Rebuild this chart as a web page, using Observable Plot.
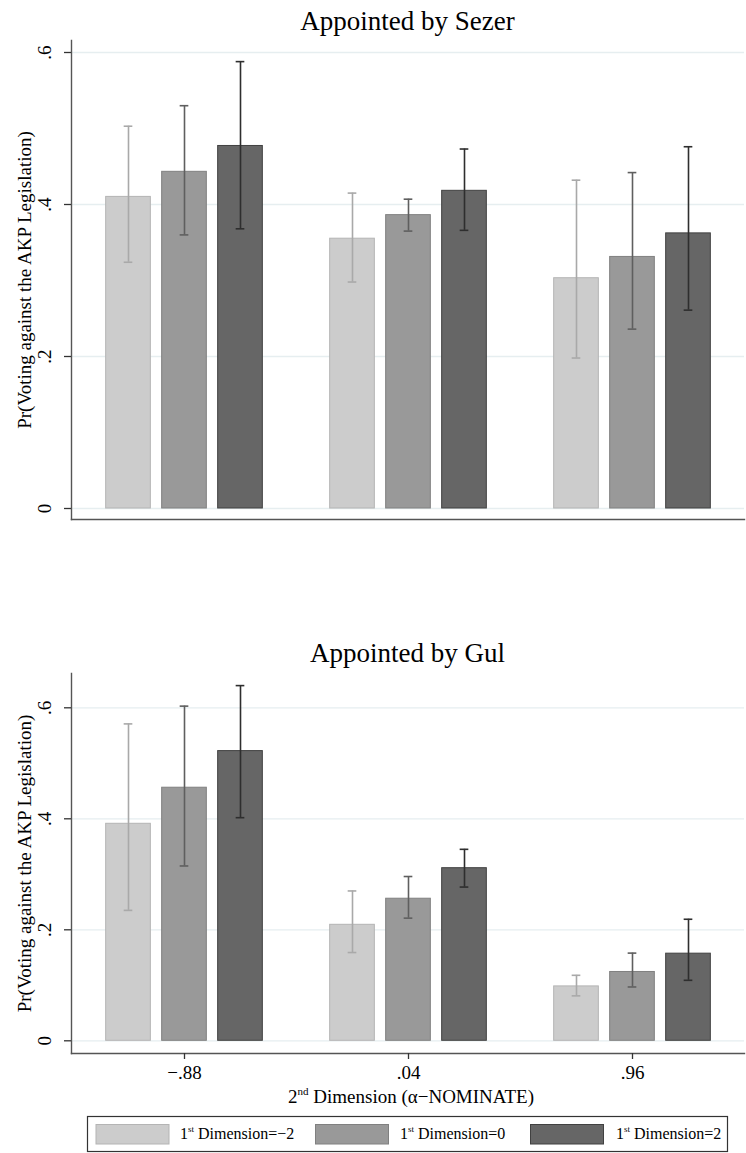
<!DOCTYPE html>
<html>
<head>
<meta charset="utf-8">
<script src="https://cdn.jsdelivr.net/npm/d3@7"></script>
<script src="https://cdn.jsdelivr.net/npm/@observablehq/plot@0.6"></script>
<style>
html, body { margin: 0; padding: 0; background: #fff; }
#chart { position: relative; width: 746px; height: 1153px; overflow: hidden; font-family: "Liberation Serif", "Times New Roman", serif; color: #000; }
#chart > svg, #chart > div { position: absolute; left: 0; }
</style>
</head>
<body>
<div id="chart"></div>
<script>
// ---- data ----
const groups = ["\u2212.88", ".04", ".96"];          // 2nd dimension values (x tick labels)
const seriesValues = ["\u22122", "0", "2"];           // 1st dimension values
const yTicks = [0, 0.2, 0.4, 0.6];
const yTickLabels = ["0", ".2", ".4", ".6"];
const panelTitles = ["Appointed by Sezer", "Appointed by Gul"];
const yLabel = "Pr(Voting against the AKP Legislation)";

// Appointed by Sezer (group-major: -.88 x3, .04 x3, .96 x3)
const sezerEst = [0.410, 0.443, 0.477, 0.355, 0.386, 0.418, 0.303, 0.331, 0.362];
const sezerLo  = [0.324, 0.360, 0.368, 0.298, 0.365, 0.366, 0.198, 0.236, 0.261];
const sezerHi  = [0.503, 0.530, 0.588, 0.415, 0.407, 0.473, 0.432, 0.442, 0.476];

// Appointed by Gul
const gulEst = [0.391, 0.456, 0.522, 0.209, 0.256, 0.311, 0.098, 0.124, 0.157];
const gulLo  = [0.235, 0.315, 0.402, 0.159, 0.221, 0.277, 0.081, 0.097, 0.109];
const gulHi  = [0.571, 0.603, 0.640, 0.270, 0.296, 0.345, 0.118, 0.158, 0.219];

// ---- styles ----
const fills = ["#cccccc", "#999999", "#666666"];
const edges = ["#b4b4b4", "#808080", "#414141"];
const whisk = ["#a9a9a9", "#5f5f5f", "#2e2e2e"];
const FONT = "Liberation Serif, Times New Roman, serif";

function rows(est, lo, hi) {
  return est.map((v, i) => ({group: groups[Math.floor(i / 3)], s: i % 3, est: v, lo: lo[i], hi: hi[i]}));
}

function panel(data, {height, marginTop, marginBottom, insetTop, insetBottom, showX}) {
  const W = 746, ML = 71, MR = 2;
  const bw = (W - ML - MR) / groups.length;
  const barW = 45, capW = 9, step = 56;
  const marks = [Plot.gridY(yTicks, {stroke: "#e6eef0", strokeOpacity: 1, strokeWidth: 1.3})];
  for (const s of [0, 1, 2]) {
    const d = data.filter(r => r.s === s);
    marks.push(Plot.barY(d, {x: "group", y: "est", dx: (s - 1) * step,
      insetLeft: (bw - barW) / 2, insetRight: (bw - barW) / 2,
      fill: fills[s], stroke: edges[s], strokeWidth: 1}));
  }
  for (const s of [0, 1, 2]) {
    const d = data.filter(r => r.s === s);
    const dx = (s - 1) * step;
    marks.push(Plot.ruleX(d, {x: "group", y1: "lo", y2: "hi", dx, stroke: whisk[s], strokeWidth: 1.6}));
    for (const k of ["lo", "hi"]) {
      marks.push(Plot.tickY(d, {x: "group", y: k, dx, insetLeft: (bw - capW) / 2, insetRight: (bw - capW) / 2,
        stroke: whisk[s], strokeWidth: 1.6}));
    }
  }
  marks.push(Plot.frame({anchor: "left", stroke: "#555", strokeWidth: 1.4}));
  marks.push(Plot.frame({anchor: "bottom", stroke: "#555", strokeWidth: 1.4}));
  marks.push(Plot.axisY({ticks: yTicks, tickFormat: d => yTickLabels[yTicks.indexOf(d)],
    tickSize: 7, tickRotate: -90, tickPadding: 14, fontSize: 19, label: null, stroke: "#333", strokeWidth: 1.3}));
  marks.push(Plot.text([yLabel], {text: d => d, frameAnchor: "left", textAnchor: "middle", rotate: -90, dx: -54, lineAnchor: "top", fontSize: 19}));
  if (showX) marks.push(Plot.axisX({tickSize: 6, tickPadding: 6, fontSize: 19, label: null, stroke: "#333", strokeWidth: 1.3}));
  return Plot.plot({
    width: W, height, marginTop, marginBottom, marginLeft: ML, marginRight: MR,
    x: {domain: groups, padding: 0, axis: showX ? undefined : null},
    y: {domain: [0, 0.6], insetTop, insetBottom},
    style: {fontFamily: FONT, background: "transparent", color: "#000"},
    marks
  });
}

const chart = document.getElementById("chart");
const p1 = panel(rows(sezerEst, sezerLo, sezerHi), {height: 525, marginTop: 40, marginBottom: 6, insetTop: 12, insetBottom: 11, showX: false});
p1.style.top = "0px";
chart.appendChild(p1);
const p2 = panel(rows(gulEst, gulLo, gulHi), {height: 445, marginTop: 33, marginBottom: 32, insetTop: 34.3, insetBottom: 12.7, showX: true});
p2.style.top = "640px";
chart.appendChild(p2);

// ---- titles, x-axis title, legend ----
const ov = d3.select(chart).append("svg").attr("width", 746).attr("height", 1153)
  .style("top", "0px").style("font-family", FONT);
ov.append("text").attr("x", 407.5).attr("y", 29.5).attr("text-anchor", "middle").attr("font-size", 27).text(panelTitles[0]);
ov.append("text").attr("x", 407.5).attr("y", 662).attr("text-anchor", "middle").attr("font-size", 27).text(panelTitles[1]);

const xt = ov.append("text").attr("x", 411).attr("y", 1102.7).attr("text-anchor", "middle").attr("font-size", 19);
xt.append("tspan").text("2");
xt.append("tspan").attr("font-size", 11).attr("dy", -8).text("nd");
xt.append("tspan").attr("dy", 8).text(" Dimension (\u03b1\u2212NOMINATE)");

ov.append("rect").attr("x", 87.5).attr("y", 1116.5).attr("width", 640).attr("height", 35)
  .attr("fill", "#fff").attr("stroke", "#333").attr("stroke-width", 1.2);
const swX = [96, 315.5, 530.5], lbX = [180, 400, 616];
seriesValues.forEach((v, s) => {
  ov.append("rect").attr("x", swX[s]).attr("y", 1124.5).attr("width", 73).attr("height", 19.5)
    .attr("fill", fills[s]).attr("stroke", edges[s]).attr("stroke-width", 1);
  const t = ov.append("text").attr("x", lbX[s]).attr("y", 1139.3).attr("font-size", 16);
  t.append("tspan").text("1");
  t.append("tspan").attr("font-size", 9).attr("dy", -7).text("st");
  t.append("tspan").attr("dy", 7).text(" Dimension=" + v);
});
</script>
</body>
</html>
